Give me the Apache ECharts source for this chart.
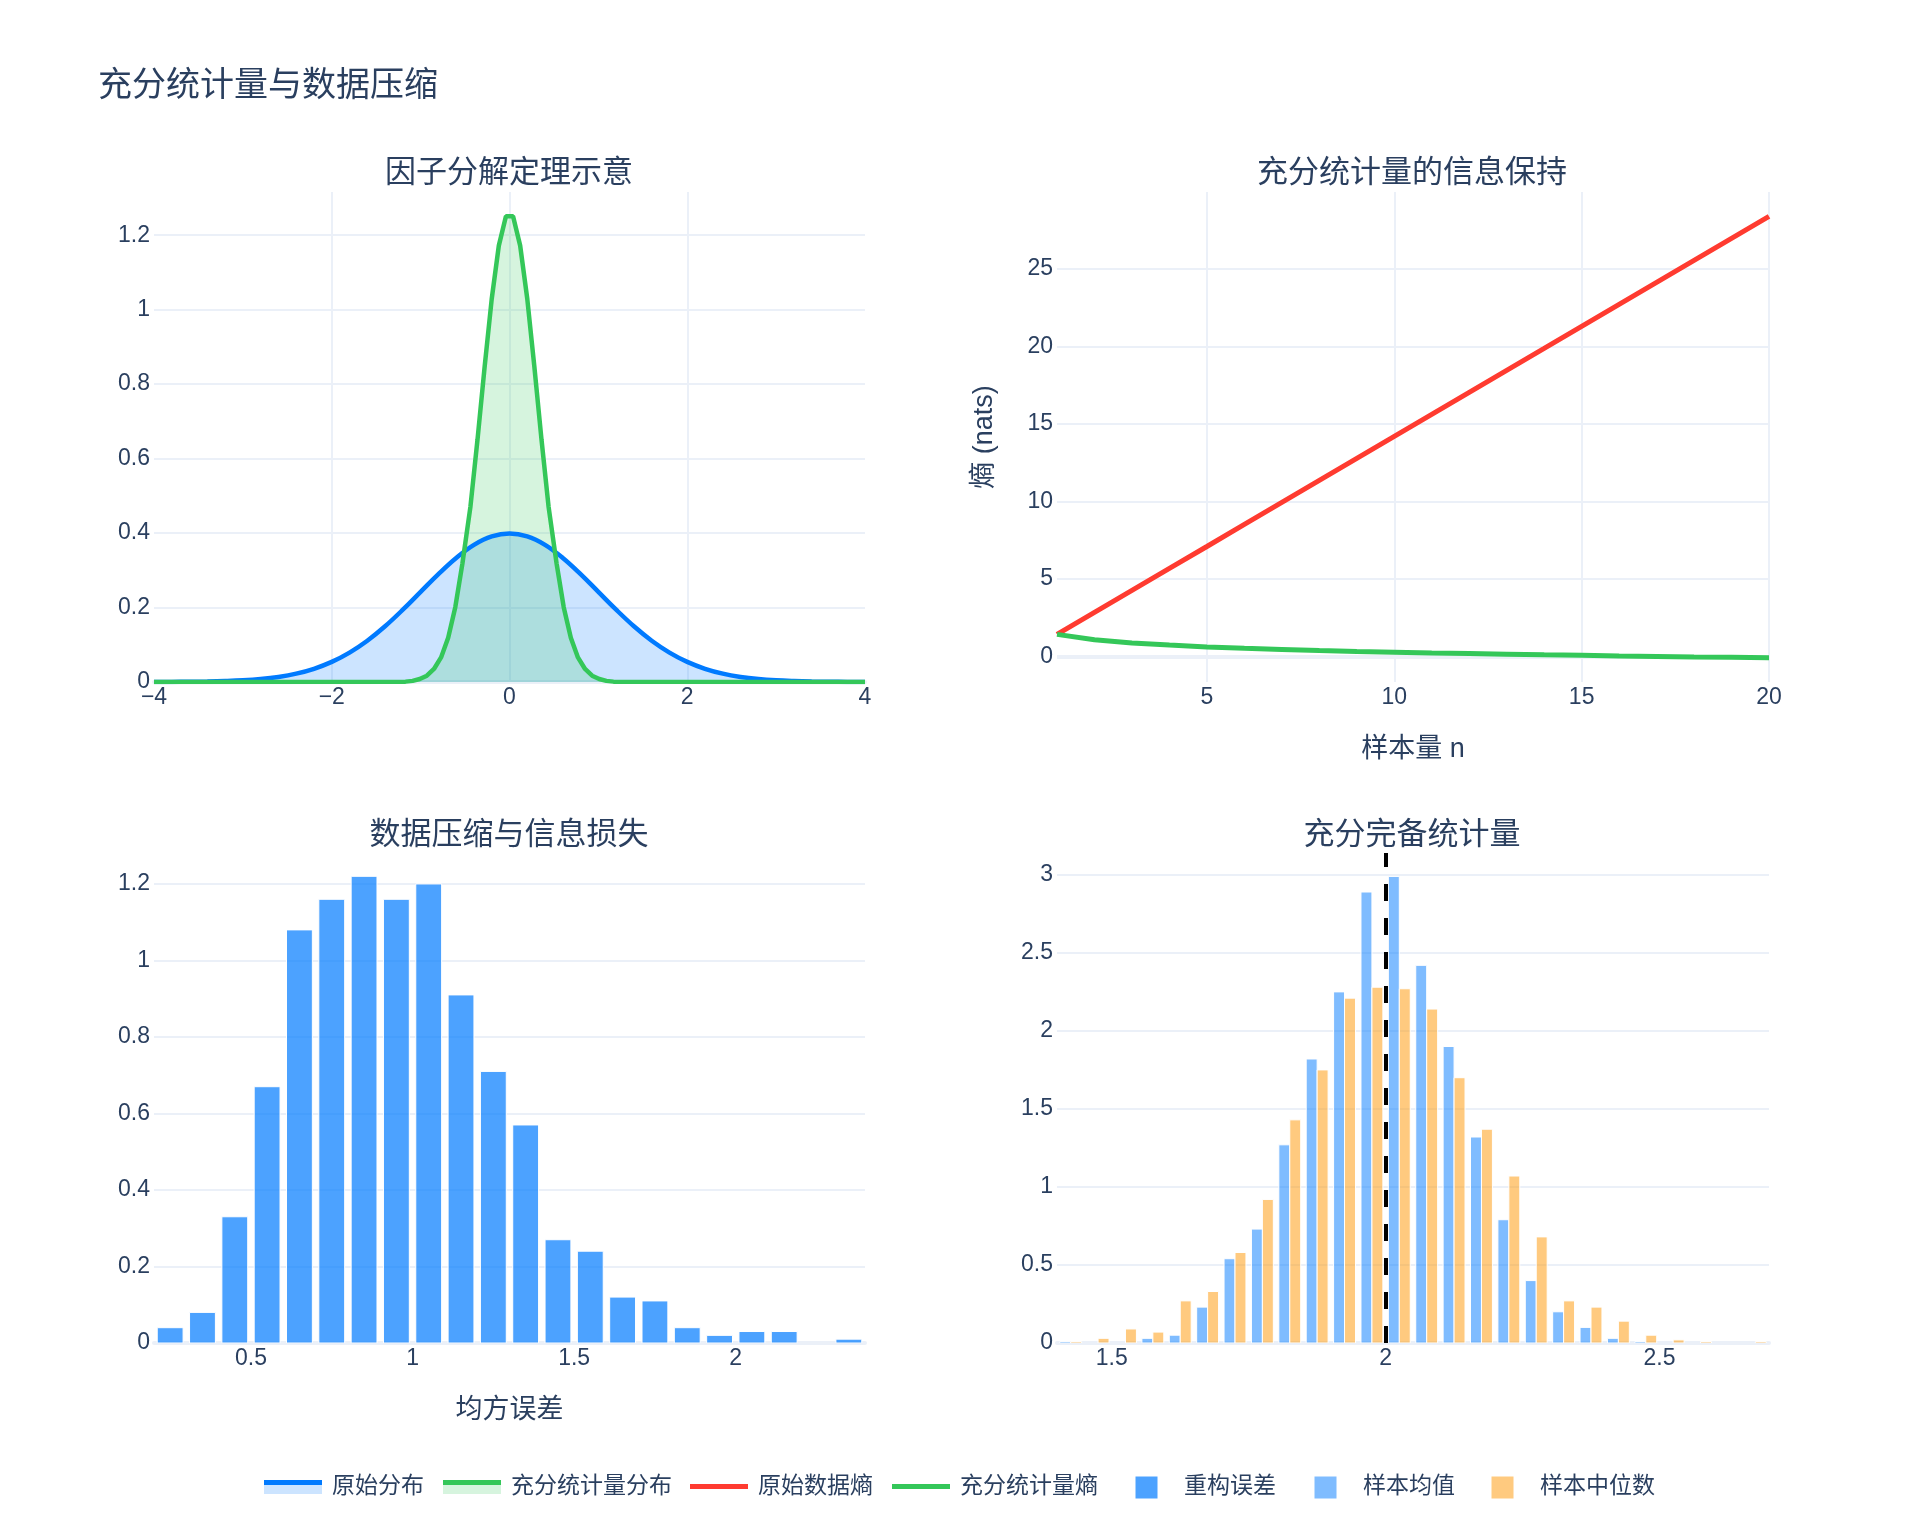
<!DOCTYPE html>
<html>
<head>
<meta charset="utf-8">
<title>充分统计量与数据压缩</title>
<script src="https://cdn.jsdelivr.net/npm/echarts@6/dist/echarts.min.js"></script>
<style>
  html, body { margin: 0; padding: 0; background: #fff; }
  #chart { width: 1920px; height: 1536px; }
</style>
</head>
<body>
<div id="chart"></div>
<script>
// ---- 因子分解定理示意：原始分布 N(0,1) 与充分统计量分布 ----
const origX = [-4.0, -3.8, -3.6, -3.4, -3.2, -3.0, -2.8, -2.6, -2.4, -2.2, -2.0, -1.8, -1.6, -1.4, -1.2, -1.0, -0.8, -0.6, -0.4, -0.2,
  0.0, 0.2, 0.4, 0.6, 0.8, 1.0, 1.2, 1.4, 1.6, 1.8, 2.0, 2.2, 2.4, 2.6, 2.8, 3.0, 3.2, 3.4, 3.6, 3.8, 4.0]
const origY = [0.0001, 0.0003, 0.0006, 0.0012, 0.0024, 0.0044, 0.0079, 0.0136, 0.0224, 0.0355, 0.0540, 0.0790, 0.1109, 0.1497, 0.1942, 0.2420, 0.2897, 0.3332, 0.3683, 0.3910,
  0.3989, 0.3910, 0.3683, 0.3332, 0.2897, 0.2420, 0.1942, 0.1497, 0.1109, 0.0790, 0.0540, 0.0355, 0.0224, 0.0136, 0.0079, 0.0044, 0.0024, 0.0012, 0.0006, 0.0003, 0.0001]
const suffX = [-4.0, -1.17, -1.09, -1.01, -0.93, -0.85, -0.77, -0.69, -0.61, -0.53, -0.44, -0.36, -0.28, -0.20, -0.12, -0.04,
  0.04, 0.12, 0.20, 0.28, 0.36, 0.44, 0.53, 0.61, 0.69, 0.77, 0.85, 0.93, 1.01, 1.09, 1.17, 4.0]
const suffY = [0, 0.001, 0.003, 0.008, 0.017, 0.035, 0.066, 0.119, 0.201, 0.318, 0.470, 0.651, 0.846, 1.029, 1.172, 1.251,
  1.251, 1.172, 1.029, 0.846, 0.651, 0.470, 0.318, 0.201, 0.119, 0.066, 0.035, 0.017, 0.008, 0.003, 0.001, 0]

// ---- 充分统计量的信息保持 ----
const sampleN = [1, 2, 3, 4, 5, 6, 7, 8, 9, 10, 11, 12, 13, 14, 15, 16, 17, 18, 19, 20]
const rawEntropy = [1.42, 2.84, 4.26, 5.68, 7.09, 8.51, 9.93, 11.35, 12.77, 14.19, 15.61, 17.03, 18.45, 19.86, 21.28, 22.70, 24.12, 25.54, 26.96, 28.38]
const suffEntropy = [1.42, 1.07, 0.87, 0.73, 0.61, 0.52, 0.45, 0.38, 0.32, 0.27, 0.22, 0.18, 0.14, 0.10, 0.07, 0.03, 0.00, -0.03, -0.05, -0.08]

// ---- 数据压缩与信息损失（直方图，箱宽 0.1）----
const mseBinWidth = 0.1
const mseBinStart = [0.2, 0.3, 0.4, 0.5, 0.6, 0.7, 0.8, 0.9, 1.0, 1.1, 1.2, 1.3, 1.4, 1.5, 1.6, 1.7, 1.8, 1.9, 2.0, 2.1, 2.2, 2.3]
const mseDensity = [0.04, 0.08, 0.33, 0.67, 1.08, 1.16, 1.22, 1.16, 1.20, 0.91, 0.71, 0.57, 0.27, 0.24, 0.12, 0.11, 0.04, 0.02, 0.03, 0.03, 0, 0.01]

// ---- 充分完备统计量（直方图，箱宽 0.05）----
const statBinWidth = 0.05
const statBinStart = [1.40, 1.45, 1.50, 1.55, 1.60, 1.65, 1.70, 1.75, 1.80, 1.85, 1.90, 1.95, 2.00,
  2.05, 2.10, 2.15, 2.20, 2.25, 2.30, 2.35, 2.40, 2.45, 2.50, 2.55, 2.60, 2.65]
const meanDensity = [0.01, 0, 0, 0.03, 0.05, 0.23, 0.54, 0.73, 1.27, 1.82, 2.25, 2.89, 2.99,
  2.42, 1.90, 1.32, 0.79, 0.40, 0.20, 0.10, 0.03, 0.01, 0, 0, 0, 0]
const medianDensity = [0.01, 0.03, 0.09, 0.07, 0.27, 0.33, 0.58, 0.92, 1.43, 1.75, 2.21, 2.28, 2.27,
  2.14, 1.70, 1.37, 1.07, 0.68, 0.27, 0.23, 0.14, 0.05, 0.02, 0.01, 0, 0.01]
const trueValue = 2

// 刻度
const ticksTL_x = [-4, -2, 0, 2, 4]
const ticksTL_y = [0, 0.2, 0.4, 0.6, 0.8, 1, 1.2]
const ticksTR_x = [5, 10, 15, 20]
const ticksTR_y = [0, 5, 10, 15, 20, 25]
const ticksBL_x = [0.5, 1, 1.5, 2]
const ticksBL_y = [0, 0.2, 0.4, 0.6, 0.8, 1, 1.2]
const ticksBR_x = [1.5, 2, 2.5]
const ticksBR_y = [0, 0.5, 1, 1.5, 2, 2.5, 3]

const textColor = '#2a3f5f'
const gridColor = '#ebf0f8'
const fontFamily = '"Liberation Sans", "Noto Sans CJK SC", sans-serif'
const colors = {
  blue: '#007aff',
  blueFill: 'rgba(0, 122, 255, 0.2)',
  green: '#34c759',
  greenFill: 'rgba(52, 199, 89, 0.2)',
  red: '#ff3b30',
  mse: 'rgba(0, 122, 255, 0.7)',
  mean: 'rgba(0, 122, 255, 0.5)',
  median: 'rgba(255, 149, 0, 0.5)',
}

function fmt(v) {
  return v < 0 ? '\u2212' + Math.abs(v) : String(v)
}

function makeAxis(gridIndex, min, max, ticks, opts) {
  opts = opts || {}
  return {
    type: 'value',
    gridIndex: gridIndex,
    min: min,
    max: max,
    name: opts.name,
    nameLocation: 'middle',
    nameGap: opts.nameGap,
    nameRotate: opts.nameRotate,
    nameTextStyle: { color: textColor, fontSize: 27, fontFamily: fontFamily },
    axisLine: opts.axisLine || { show: false, onZero: false },
    axisTick: { show: false, customValues: ticks },
    axisLabel: { color: textColor, fontSize: 23, fontFamily: fontFamily, margin: 4, customValues: ticks, formatter: fmt },
    splitLine: {
      show: opts.grid !== false,
      showMinLine: opts.showMinLine !== false,
      showMaxLine: opts.showMaxLine !== false,
      lineStyle: { color: gridColor, width: 2 },
    },
  }
}

const zeroAxisLine = { show: true, onZero: false, lineStyle: { color: gridColor, width: 4 } }

function histRender(binWidth, from, to, color) {
  return function (params, api) {
    const start = api.value(0)
    const h = api.value(1)
    if (!h) return null
    const p0 = api.coord([start + binWidth * from, h])
    const p1 = api.coord([start + binWidth * to, 0])
    return {
      type: 'rect',
      shape: { x: p0[0], y: p0[1], width: p1[0] - p0[0], height: p1[1] - p0[1] },
      style: { fill: color, stroke: '#ffffff', lineWidth: 1 },
    }
  }
}

// 图例（仿 Plotly 底部横向图例）
const legendItems = [
  { name: '原始分布', kind: 'area', line: colors.blue, fill: colors.blueFill, x: 254 },
  { name: '充分统计量分布', kind: 'area', line: colors.green, fill: colors.greenFill, x: 433 },
  { name: '原始数据熵', kind: 'line', line: colors.red, x: 680 },
  { name: '充分统计量熵', kind: 'line', line: colors.green, x: 882 },
  { name: '重构误差', kind: 'bar', fill: colors.mse, x: 1106 },
  { name: '样本均值', kind: 'bar', fill: colors.mean, x: 1285 },
  { name: '样本中位数', kind: 'bar', fill: colors.median, x: 1462 },
]
const legendY = 1487
const legendGraphics = []
legendItems.forEach(function (item) {
  if (item.kind === 'area') {
    legendGraphics.push({ type: 'rect', shape: { x: item.x + 10, y: legendY - 2, width: 58, height: 9 }, style: { fill: item.fill } })
    legendGraphics.push({ type: 'rect', shape: { x: item.x + 10, y: legendY - 7, width: 58, height: 5 }, style: { fill: item.line } })
  } else if (item.kind === 'line') {
    legendGraphics.push({ type: 'rect', shape: { x: item.x + 10, y: legendY - 3, width: 58, height: 5 }, style: { fill: item.line } })
  } else {
    legendGraphics.push({ type: 'rect', shape: { x: item.x + 29, y: legendY - 11, width: 23, height: 23 }, style: { fill: item.fill, stroke: '#fff', lineWidth: 1 } })
  }
  legendGraphics.push({
    type: 'text',
    x: item.x + 78,
    y: legendY,
    style: { text: item.name, fill: textColor, fontSize: 23, fontFamily: fontFamily, verticalAlign: 'middle', align: 'left' },
  })
})

const chart = echarts.init(document.getElementById('chart'))

const subTitle = function (text, x, top) {
  return { text: text, left: x, top: top, textAlign: 'center', textStyle: { color: textColor, fontSize: 31, fontWeight: 'normal', fontFamily: fontFamily } }
}

const option = {
  animation: false,
  backgroundColor: '#ffffff',
  textStyle: { fontFamily: fontFamily },
  title: [
    { text: '充分统计量与数据压缩', left: 93, top: 65, textStyle: { color: textColor, fontSize: 34, fontWeight: 'normal', fontFamily: fontFamily } },
    subTitle('因子分解定理示意', 504, 153),
    subTitle('充分统计量的信息保持', 1407, 153),
    subTitle('数据压缩与信息损失', 504, 815),
    subTitle('充分完备统计量', 1407, 815),
  ],
  grid: [
    { left: 154, top: 192, width: 711, height: 490 },
    { left: 1057, top: 192, width: 712, height: 490 },
    { left: 154, top: 853, width: 711, height: 490 },
    { left: 1057, top: 853, width: 712, height: 490 },
  ],
  xAxis: [
    makeAxis(0, -4, 4, ticksTL_x, { axisLine: zeroAxisLine, showMinLine: false, showMaxLine: false }),
    makeAxis(1, 1, 20, ticksTR_x, { name: '样本量 n', nameGap: 54 }),
    makeAxis(2, 0.2, 2.4, ticksBL_x, { name: '均方误差', nameGap: 54, axisLine: zeroAxisLine, grid: false }),
    makeAxis(3, 1.4, 2.7, ticksBR_x, { axisLine: zeroAxisLine, grid: false }),
  ],
  yAxis: [
    makeAxis(0, 0, 1.316, ticksTL_y),
    makeAxis(1, -1.65, 29.95, ticksTR_y, { name: '熵 (nats)', nameGap: 59, nameRotate: 90 }),
    makeAxis(2, 0, 1.281, ticksBL_y),
    makeAxis(3, 0, 3.14, ticksBR_y),
  ],
  series: [
    {
      name: '原始分布',
      type: 'line',
      xAxisIndex: 0,
      yAxisIndex: 0,
      data: origX.map((x, i) => [x, origY[i]]),
      smooth: 0.4,
      showSymbol: false,
      lineStyle: { color: colors.blue, width: 4.5 },
      itemStyle: { color: colors.blue },
      areaStyle: { color: colors.blueFill, opacity: 1 },
    },
    {
      name: '充分统计量分布',
      type: 'line',
      xAxisIndex: 0,
      yAxisIndex: 0,
      data: suffX.map((x, i) => [x, suffY[i]]),
      showSymbol: false,
      lineStyle: { color: colors.green, width: 4.5 },
      itemStyle: { color: colors.green },
      areaStyle: { color: colors.greenFill, opacity: 1 },
    },
    {
      name: '原始数据熵',
      type: 'line',
      xAxisIndex: 1,
      yAxisIndex: 1,
      data: sampleN.map((n, i) => [n, rawEntropy[i]]),
      showSymbol: false,
      lineStyle: { color: colors.red, width: 5 },
      itemStyle: { color: colors.red },
      markLine: {
        silent: true,
        z: 1,
        symbol: 'none',
        label: { show: false },
        lineStyle: { color: gridColor, width: 4, type: 'solid' },
        data: [{ yAxis: 0 }],
      },
    },
    {
      name: '充分统计量熵',
      type: 'line',
      xAxisIndex: 1,
      yAxisIndex: 1,
      data: sampleN.map((n, i) => [n, suffEntropy[i]]),
      showSymbol: false,
      lineStyle: { color: colors.green, width: 5 },
      itemStyle: { color: colors.green },
    },
    {
      name: '重构误差',
      type: 'custom',
      xAxisIndex: 2,
      yAxisIndex: 2,
      clip: true,
      renderItem: histRender(mseBinWidth, 0.1, 0.9, colors.mse),
      encode: { x: 0, y: 1 },
      data: mseBinStart.map((b, i) => [b, mseDensity[i]]),
    },
    {
      name: '样本均值',
      type: 'custom',
      xAxisIndex: 3,
      yAxisIndex: 3,
      clip: true,
      renderItem: histRender(statBinWidth, 0.1, 0.5, colors.mean),
      encode: { x: 0, y: 1 },
      data: statBinStart.map((b, i) => [b, meanDensity[i]]),
    },
    {
      name: '样本中位数',
      type: 'custom',
      xAxisIndex: 3,
      yAxisIndex: 3,
      clip: true,
      renderItem: histRender(statBinWidth, 0.5, 0.9, colors.median),
      encode: { x: 0, y: 1 },
      data: statBinStart.map((b, i) => [b, medianDensity[i]]),
    },
    {
      name: '真实参数',
      type: 'line',
      xAxisIndex: 3,
      yAxisIndex: 3,
      data: [],
      markLine: {
        silent: true,
        symbol: 'none',
        label: { show: false },
        lineStyle: { color: '#000000', width: 4, type: [17, 17] },
        data: [{ xAxis: trueValue }],
      },
    },
  ],
  graphic: legendGraphics,
}

chart.setOption(option)
</script>
</body>
</html>
